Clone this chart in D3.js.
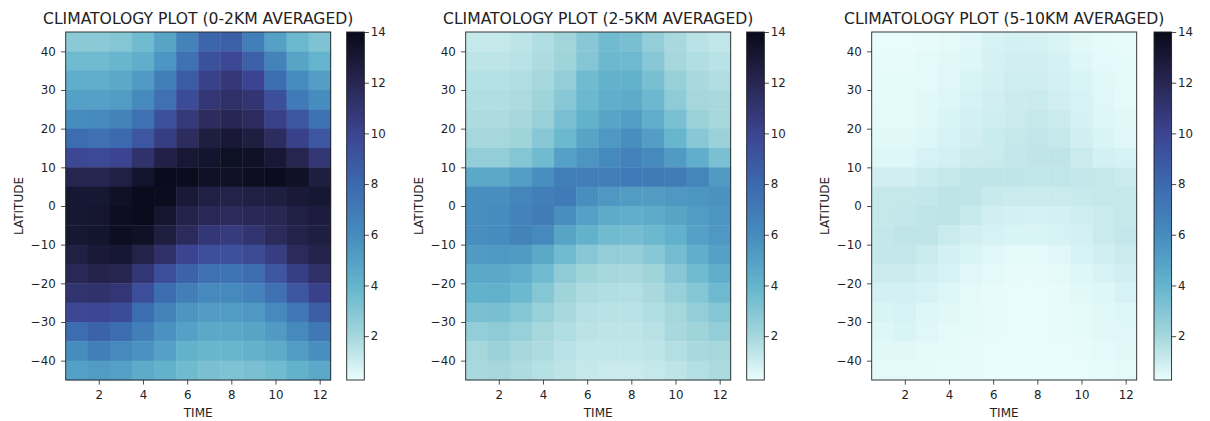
<!DOCTYPE html>
<html>
<head>
<meta charset="utf-8">
<script src="https://cdn.jsdelivr.net/npm/d3@7"></script>
<style>
	body { margin: 0; background: #fff; }
	svg { display: block; font-family: "DejaVu Sans", sans-serif; }
	.tick line { stroke: #222; stroke-width: 0.8; }
	.title { font-size: 15.6px; fill: #222; }
	.axisLabel { font-size: 12px; fill: #222; }
</style>
</head>
<body>
<div id="chart"></div>
<script>
// Months on the x axis, latitude bins (lower edge, 5 deg wide) from north to south
const months = [1, 2, 3, 4, 5, 6, 7, 8, 9, 10, 11, 12];
const latBins = [40, 35, 30, 25, 20, 15, 10, 5, 0, -5, -10, -15, -20, -25, -30, -35, -40, -45];

const xTicks = [2, 4, 6, 8, 10, 12];
const yTicks = [-40, -30, -20, -10, 0, 10, 20, 30, 40];
const colorbarTicks = [2, 4, 6, 8, 10, 12, 14];
const colorDomain = [0.27, 14];

const panelTitles = [
	"CLIMATOLOGY PLOT (0-2KM AVERAGED)",
	"CLIMATOLOGY PLOT (2-5KM AVERAGED)",
	"CLIMATOLOGY PLOT (5-10KM AVERAGED)"
];

// 0-2 km
const valuesLow = [
	[2.8, 2.8, 3.0, 3.6, 4.8, 6.5, 8.2, 8.5, 6.8, 5.0, 3.8, 3.2],
	[3.6, 3.6, 3.9, 4.3, 5.6, 7.5, 9.3, 9.8, 8.5, 6.5, 4.8, 4.0],
	[4.3, 4.3, 4.6, 5.3, 6.8, 8.7, 10.2, 10.8, 10.0, 7.8, 6.0, 5.1],
	[5.0, 5.0, 5.2, 6.2, 7.6, 9.6, 10.9, 11.3, 11.0, 9.4, 7.0, 6.0],
	[6.0, 6.2, 6.5, 7.5, 9.3, 10.7, 11.6, 12.0, 11.6, 10.2, 9.0, 7.5],
	[7.8, 7.6, 8.0, 9.0, 10.5, 11.6, 12.6, 13.0, 12.6, 11.6, 10.2, 9.0],
	[9.8, 9.7, 10.0, 11.2, 12.4, 13.0, 13.3, 13.6, 13.5, 13.0, 12.1, 10.9],
	[12.1, 12.1, 12.5, 13.3, 13.9, 13.8, 13.5, 13.5, 13.7, 13.8, 13.5, 12.6],
	[13.1, 13.1, 13.5, 13.9, 13.8, 12.9, 12.5, 12.3, 12.5, 12.6, 12.9, 13.1],
	[13.1, 13.2, 13.7, 13.9, 13.2, 12.3, 11.9, 11.7, 11.9, 12.0, 12.5, 12.7],
	[13.1, 13.3, 13.7, 13.5, 12.6, 11.7, 10.9, 10.6, 11.1, 11.7, 12.3, 12.6],
	[12.5, 12.9, 13.1, 12.3, 11.3, 10.0, 9.5, 9.3, 9.7, 10.5, 11.7, 12.2],
	[11.9, 12.2, 12.1, 10.9, 9.5, 8.4, 7.6, 7.4, 7.8, 9.0, 10.4, 11.3],
	[11.1, 11.2, 10.9, 9.5, 7.8, 6.8, 6.2, 6.2, 6.6, 7.6, 9.0, 10.2],
	[9.8, 9.9, 9.6, 7.8, 6.5, 5.5, 5.2, 5.2, 5.4, 6.2, 7.2, 8.6],
	[7.8, 8.4, 7.8, 6.8, 5.7, 5.0, 4.6, 4.6, 4.8, 5.3, 6.2, 7.2],
	[6.0, 6.8, 6.1, 5.7, 5.0, 4.1, 3.9, 3.9, 4.1, 4.5, 5.2, 5.9],
	[5.0, 5.2, 5.0, 4.5, 4.1, 3.6, 3.3, 3.2, 3.3, 3.6, 4.1, 4.6]
];

// 2-5 km
const valuesMid = [
	[1.2, 1.2, 1.4, 1.7, 2.1, 2.9, 3.6, 3.4, 2.6, 1.9, 1.5, 1.3],
	[1.4, 1.4, 1.5, 1.8, 2.2, 3.0, 3.8, 3.7, 2.9, 2.0, 1.7, 1.5],
	[1.6, 1.6, 1.7, 2.0, 2.6, 3.6, 4.1, 4.1, 3.4, 2.4, 1.9, 1.7],
	[1.7, 1.7, 1.8, 2.2, 2.9, 3.8, 4.3, 4.5, 3.8, 2.7, 2.0, 1.9],
	[1.8, 1.8, 2.0, 2.4, 3.3, 4.1, 4.8, 5.1, 4.3, 3.3, 2.3, 2.0],
	[2.0, 2.0, 2.2, 2.9, 3.8, 4.8, 5.4, 5.9, 5.1, 3.9, 2.9, 2.3],
	[2.6, 2.6, 3.0, 3.6, 5.0, 5.6, 6.2, 6.6, 6.2, 5.3, 4.3, 3.3],
	[4.6, 4.6, 5.1, 5.9, 6.8, 6.8, 6.8, 7.0, 7.0, 6.9, 6.4, 5.3],
	[5.9, 5.9, 6.4, 6.8, 7.0, 5.9, 5.4, 5.2, 5.2, 5.4, 5.5, 5.7],
	[5.9, 6.0, 6.6, 6.9, 5.9, 5.0, 4.5, 4.3, 4.5, 4.8, 5.2, 5.5],
	[5.9, 6.0, 6.5, 6.1, 4.8, 4.1, 3.6, 3.5, 3.8, 4.2, 5.0, 5.4],
	[5.3, 5.4, 5.3, 4.6, 3.6, 2.9, 2.6, 2.5, 2.9, 3.5, 4.3, 5.0],
	[4.6, 4.6, 4.3, 3.6, 2.7, 2.2, 2.0, 1.9, 2.2, 2.9, 3.6, 4.3],
	[4.1, 4.2, 3.8, 3.0, 2.2, 1.8, 1.7, 1.65, 1.9, 2.4, 3.0, 3.7],
	[3.3, 3.4, 3.0, 2.4, 1.9, 1.6, 1.5, 1.5, 1.7, 2.0, 2.6, 3.0],
	[2.6, 2.7, 2.4, 2.0, 1.7, 1.45, 1.4, 1.4, 1.55, 1.9, 2.2, 2.6],
	[2.0, 2.3, 2.0, 1.8, 1.5, 1.3, 1.3, 1.3, 1.4, 1.65, 1.9, 2.0],
	[1.9, 2.0, 1.8, 1.6, 1.4, 1.2, 1.1, 1.1, 1.2, 1.4, 1.65, 1.85]
];

// 5-10 km
const valuesHigh = [
	[0.3, 0.3, 0.35, 0.45, 0.55, 0.75, 0.85, 0.8, 0.7, 0.5, 0.4, 0.35],
	[0.35, 0.35, 0.45, 0.5, 0.6, 0.8, 0.9, 0.9, 0.8, 0.6, 0.45, 0.4],
	[0.4, 0.4, 0.45, 0.55, 0.7, 0.85, 1.0, 1.0, 0.85, 0.7, 0.5, 0.45],
	[0.4, 0.4, 0.5, 0.6, 0.75, 0.9, 1.05, 1.1, 0.9, 0.75, 0.55, 0.45],
	[0.45, 0.45, 0.5, 0.7, 0.85, 1.0, 1.1, 1.2, 1.05, 0.8, 0.6, 0.5],
	[0.5, 0.5, 0.6, 0.75, 0.9, 1.05, 1.2, 1.3, 1.2, 0.9, 0.7, 0.55],
	[0.6, 0.6, 0.75, 0.85, 1.05, 1.1, 1.25, 1.35, 1.35, 1.1, 0.85, 0.75],
	[0.9, 0.9, 1.05, 1.2, 1.35, 1.35, 1.35, 1.3, 1.3, 1.25, 1.2, 1.05],
	[1.2, 1.2, 1.25, 1.4, 1.35, 1.15, 1.1, 1.05, 1.1, 1.15, 1.2, 1.2],
	[1.2, 1.25, 1.35, 1.4, 1.15, 0.9, 0.85, 0.8, 0.85, 1.0, 1.1, 1.2],
	[1.25, 1.35, 1.35, 1.1, 0.9, 0.75, 0.7, 0.7, 0.75, 0.85, 1.1, 1.25],
	[1.25, 1.25, 1.1, 0.85, 0.7, 0.55, 0.45, 0.45, 0.55, 0.75, 0.9, 1.1],
	[1.05, 1.05, 0.9, 0.75, 0.55, 0.45, 0.35, 0.35, 0.45, 0.6, 0.75, 0.9],
	[0.85, 0.85, 0.75, 0.6, 0.45, 0.35, 0.3, 0.3, 0.35, 0.5, 0.6, 0.75],
	[0.7, 0.75, 0.6, 0.5, 0.4, 0.35, 0.3, 0.3, 0.35, 0.45, 0.5, 0.6],
	[0.6, 0.7, 0.55, 0.45, 0.4, 0.35, 0.3, 0.3, 0.35, 0.4, 0.5, 0.55],
	[0.5, 0.5, 0.45, 0.4, 0.35, 0.32, 0.3, 0.3, 0.32, 0.35, 0.45, 0.5],
	[0.45, 0.45, 0.4, 0.38, 0.35, 0.32, 0.3, 0.3, 0.3, 0.32, 0.38, 0.45]
];

// Reversed "ice" ramp, sampled off the reference colorbar
const rampValues = [0.27, 2, 4, 6, 8, 10, 12, 14];
const rampColors = ["#eafdfd", "#a5d7dc", "#64b4cd", "#468cbe", "#3c69af", "#3c4491", "#282652", "#080a19"];

const width = 1210;
const height = 421;
const margin = { top: 32, plotHeight: 348, plotWidth: 265 };
const panelLeft = [65.7, 465.7, 871.7];
const colorbarLeft = [346.7, 746.7, 1154];
const colorbarWidth = 17.6;
const tickLength = 4.6;

/**
 * Apply tick label styling (d3 puts its own font attributes on the axis group)
 */
function styleAxis(a) {
	a.attr("font-family", "DejaVu Sans, sans-serif")
		.attr("font-size", null);
	a.select(".domain").remove();
	a.selectAll("text")
		.style("font-size", "11.8px")
		.attr("fill", "#222");
}

/**
 * Reusable heatmap panel with colorbar
 */
function heatmapPanel() {

	let title = "";
	let colorScale;
	let cbLeft = 0;

	function my(selection) {
		selection.each(function(rows) {
			const g = d3.select(this);

			const xScale = d3.scaleLinear()
				.domain([0.5, 12.5])
				.range([0, margin.plotWidth]);

			const yScale = d3.scaleLinear()
				.domain([-45, 45])
				.range([margin.plotHeight, 0]);

			// Flatten rows into cells
			const cells = [];
			rows.forEach((row, i) => {
				row.forEach((v, j) => {
					cells.push({ month: months[j], lat: latBins[i], value: v });
				});
			});

			g.append("g")
				.attr("class", "cells")
				.selectAll("rect")
				.data(cells)
				.enter()
				.append("rect")
				.attr("x", (d) => xScale(d.month - 0.5))
				.attr("y", (d) => yScale(d.lat + 5))
				.attr("width", (d) => xScale(d.month + 0.5) - xScale(d.month - 0.5) + 0.4)
				.attr("height", (d) => yScale(d.lat) - yScale(d.lat + 5) + 0.4)
				.attr("fill", (d) => colorScale(d.value));

			// Axes
			const xAxis = d3.axisBottom(xScale)
				.tickValues(xTicks)
				.tickSize(tickLength)
				.tickPadding(6.3)
				.tickFormat(d3.format("d"));

			const yAxis = d3.axisLeft(yScale)
				.tickValues(yTicks)
				.tickSize(tickLength)
				.tickPadding(5.4)
				.tickFormat(d3.format("d"));

			g.append("g")
				.attr("transform", `translate(0,${margin.plotHeight})`)
				.call(xAxis)
				.call(styleAxis);

			g.append("g")
				.call(yAxis)
				.call(styleAxis);

			g.append("rect")
				.attr("width", margin.plotWidth)
				.attr("height", margin.plotHeight)
				.attr("fill", "none")
				.attr("stroke", "#222")
				.attr("stroke-width", 0.9);

			g.append("text")
				.attr("class", "title")
				.attr("x", margin.plotWidth / 2)
				.attr("y", -8)
				.attr("text-anchor", "middle")
				.text(title);

			g.append("text")
				.attr("class", "axisLabel")
				.attr("x", margin.plotWidth / 2)
				.attr("y", margin.plotHeight + 36.5)
				.attr("text-anchor", "middle")
				.text("TIME");

			g.append("text")
				.attr("class", "axisLabel")
				.attr("transform", `translate(-42.7,${margin.plotHeight / 2}) rotate(-90)`)
				.attr("text-anchor", "middle")
				.text("LATITUDE");

			// Colorbar
			const cbScale = d3.scaleLinear()
				.domain(colorDomain)
				.range([margin.plotHeight, 0]);

			const cb = g.append("g")
				.attr("class", "colorbar")
				.attr("transform", `translate(${cbLeft},0)`);

			const steps = d3.range(0, margin.plotHeight, 1);
			cb.selectAll("rect.step")
				.data(steps)
				.enter()
				.append("rect")
				.attr("class", "step")
				.attr("x", 0)
				.attr("y", (d) => d)
				.attr("width", colorbarWidth)
				.attr("height", 1.3)
				.attr("fill", (d) => colorScale(cbScale.invert(d + 0.5)));

			cb.append("rect")
				.attr("width", colorbarWidth)
				.attr("height", margin.plotHeight)
				.attr("fill", "none")
				.attr("stroke", "#222")
				.attr("stroke-width", 0.9);

			cb.append("g")
				.attr("transform", `translate(${colorbarWidth},0)`)
				.call(d3.axisRight(cbScale)
					.tickValues(colorbarTicks)
					.tickSize(tickLength)
					.tickPadding(1.8)
					.tickFormat(d3.format("d")))
				.call(styleAxis);
		});
	}

	my.title = function(_v) {
		if (!arguments.length) return title;
		title = _v;
		return my;
	};

	my.colorScale = function(_v) {
		if (!arguments.length) return colorScale;
		colorScale = _v;
		return my;
	};

	my.colorbarLeft = function(_v) {
		if (!arguments.length) return cbLeft;
		cbLeft = _v;
		return my;
	};

	return my;
}

const colorScale = d3.scaleLinear()
	.domain(rampValues)
	.range(rampColors)
	.interpolate(d3.interpolateRgb)
	.clamp(true);

const svg = d3.select("#chart")
	.append("svg")
	.attr("width", width)
	.attr("height", height);

[valuesLow, valuesMid, valuesHigh].forEach((rows, i) => {
	const panel = heatmapPanel()
		.title(panelTitles[i])
		.colorScale(colorScale)
		.colorbarLeft(colorbarLeft[i] - panelLeft[i]);

	svg.append("g")
		.datum(rows)
		.attr("transform", `translate(${panelLeft[i]},${margin.top})`)
		.call(panel);
});
</script>
</body>
</html>
